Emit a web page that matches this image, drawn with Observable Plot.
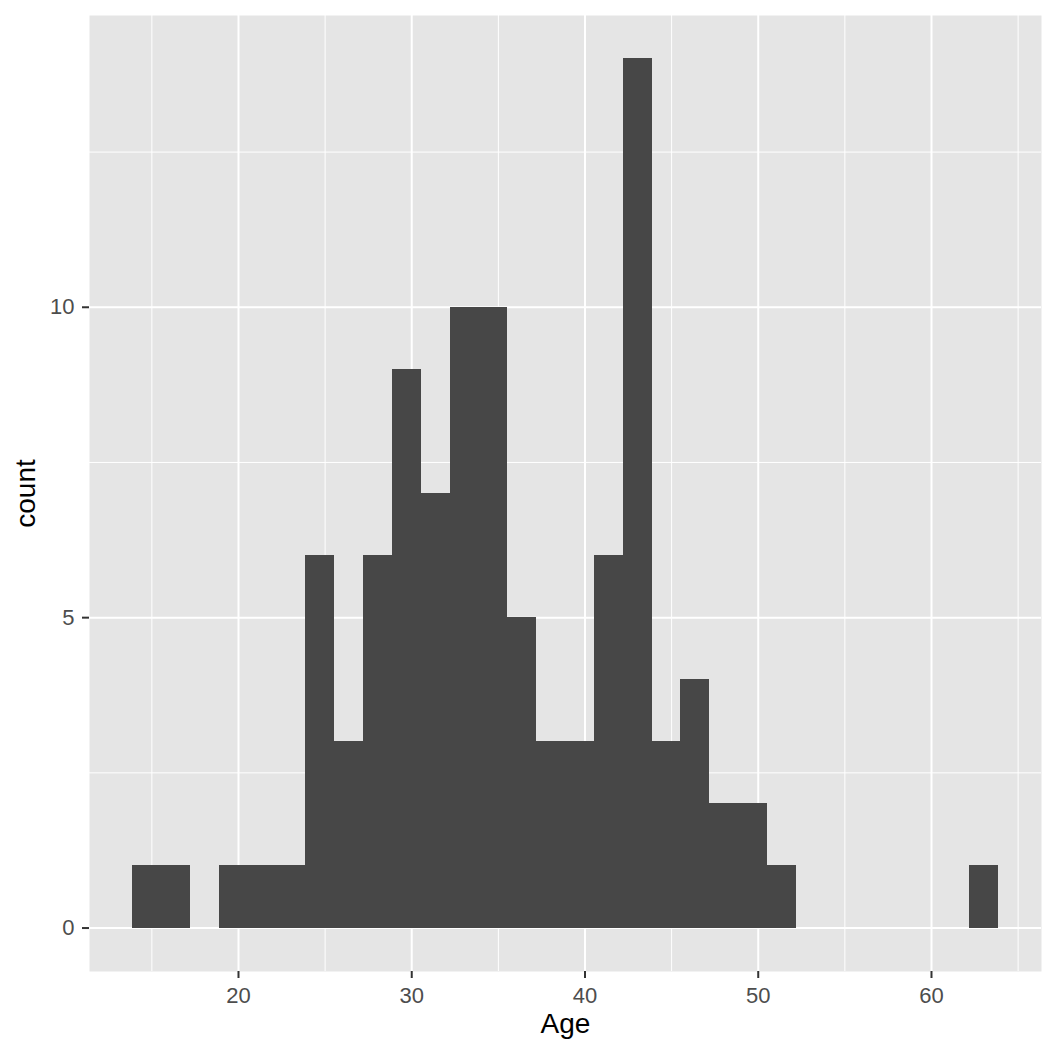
<!DOCTYPE html>
<html>
<head>
<meta charset="utf-8">
<script src="https://cdn.jsdelivr.net/npm/d3@7"></script>
<script src="https://cdn.jsdelivr.net/npm/@observablehq/plot@0.6"></script>
<style>
  html, body { margin: 0; padding: 0; background: #ffffff; }
  #chart { width: 1056px; height: 1056px; }
</style>
</head>
<body>
<div id="chart"></div>
<script>
// Histogram of Age (30 bins)
const binStart = 13.882;
const binWidth = 1.6662;
const counts = [1, 1, 0, 1, 1, 1, 6, 3, 6, 9, 7, 10, 10, 5, 3, 3, 6, 14, 3, 4, 2, 2, 1, 0, 0, 0, 0, 0, 0, 1];
const xMajor = [20, 30, 40, 50, 60];
const xMinor = [15, 25, 35, 45, 55, 65];
const yMajor = [0, 5, 10];
const yMinor = [2.5, 7.5, 12.5];
const xTitle = "Age";
const yTitle = "count";

const bins = counts.map((c, i) => ({
  x1: binStart + i * binWidth,
  x2: binStart + (i + 1) * binWidth,
  count: c
})).filter(d => d.count > 0);

const font = "'Liberation Sans', Arial, Helvetica, sans-serif";

const plot = Plot.plot({
  width: 1056,
  height: 1056,
  marginLeft: 89,
  marginRight: 15,
  marginTop: 15,
  marginBottom: 85,
  style: { fontFamily: font, background: "#ffffff", overflow: "visible" },
  x: { domain: [11.40, 66.35] },
  y: { domain: [-0.7, 14.7] },
  marks: [
    Plot.frame({ fill: "#E5E5E5", stroke: null }),
    Plot.ruleX(xMinor, { stroke: "#ffffff", strokeWidth: 1 }),
    Plot.ruleY(yMinor, { stroke: "#ffffff", strokeWidth: 1 }),
    Plot.ruleX(xMajor, { stroke: "#ffffff", strokeWidth: 2 }),
    Plot.ruleY(yMajor, { stroke: "#ffffff", strokeWidth: 2 }),
    Plot.rectY(bins, { x1: "x1", x2: "x2", y1: 0, y2: "count", fill: "#474747", inset: 0, shapeRendering: "crispEdges" }),
    Plot.axisX(xMajor, {
      tickSize: 7, tickPadding: 9, stroke: "#333333", strokeWidth: 2,
      fill: "#4D4D4D", fontSize: 22, label: null, tickFormat: d3.format("d")
    }),
    Plot.axisY(yMajor, {
      tickSize: 7, tickPadding: 8, stroke: "#333333", strokeWidth: 2,
      fill: "#4D4D4D", fontSize: 22, label: null, tickFormat: d3.format("d")
    }),
    Plot.text([xTitle], {
      frameAnchor: "bottom", dy: 61, text: d => d,
      fontSize: 28, fill: "#000000", textAnchor: "middle"
    }),
    Plot.text([yTitle], {
      frameAnchor: "left", dx: -63, text: d => d, rotate: -90,
      fontSize: 28, fill: "#000000", textAnchor: "middle"
    })
  ]
});

document.getElementById("chart").appendChild(plot);
</script>
</body>
</html>
